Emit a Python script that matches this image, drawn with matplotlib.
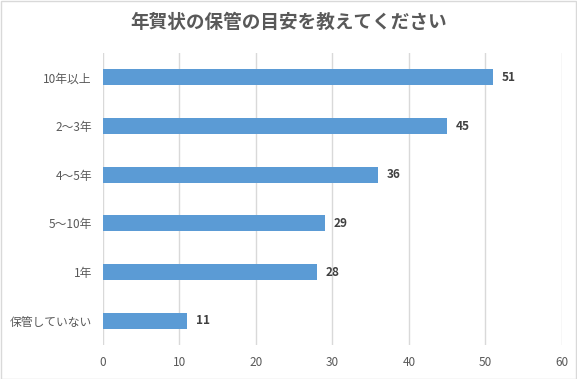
import matplotlib.pyplot as plt
from matplotlib.patches import Rectangle

plt.rcParams['font.family'] = ['Noto Sans CJK JP', 'DejaVu Sans']

# データ
categories = ['10年以上', '2〜3年', '4〜5年', '5〜10年', '1年', '保管していない']
values = [51, 45, 36, 29, 28, 11]
title = '年賀状の保管の目安を教えてください'

fig = plt.figure(figsize=(5.77, 3.79), dpi=100)
ax = fig.add_axes([0.1785, 0.0897, 0.7955, 0.7703])

ypos = list(range(len(categories)))
ax.barh(ypos, values, height=0.33, color='#5B9BD5', zorder=3)
ax.set_ylim(len(categories) - 0.5, -0.5)
ax.set_xlim(0, 60)
ax.set_xticks(range(0, 61, 10))
ax.set_yticks(ypos)
ax.set_yticklabels(categories)

for y, v in zip(ypos, values):
    ax.text(v + 1.1, y, str(v), va='center', ha='left', fontsize=8.5,
            fontweight='bold', color='#404040')

ax.grid(axis='x', color='#D9D9D9', linewidth=1, zorder=0)
for s in ax.spines.values():
    s.set_visible(False)
ax.tick_params(length=0, labelsize=8.5, colors='#595959', pad=8)

fig.text(0.5, 0.942, title, ha='center', va='center', fontsize=13.4,
         fontweight='bold', color='#595959')

# 外枠
fig.patches.append(Rectangle((0.001, 0.001), 0.997, 0.997, transform=fig.transFigure,
                             fill=False, edgecolor='#D9D9D9', linewidth=1))

fig.savefig('out.png', dpi=100)
